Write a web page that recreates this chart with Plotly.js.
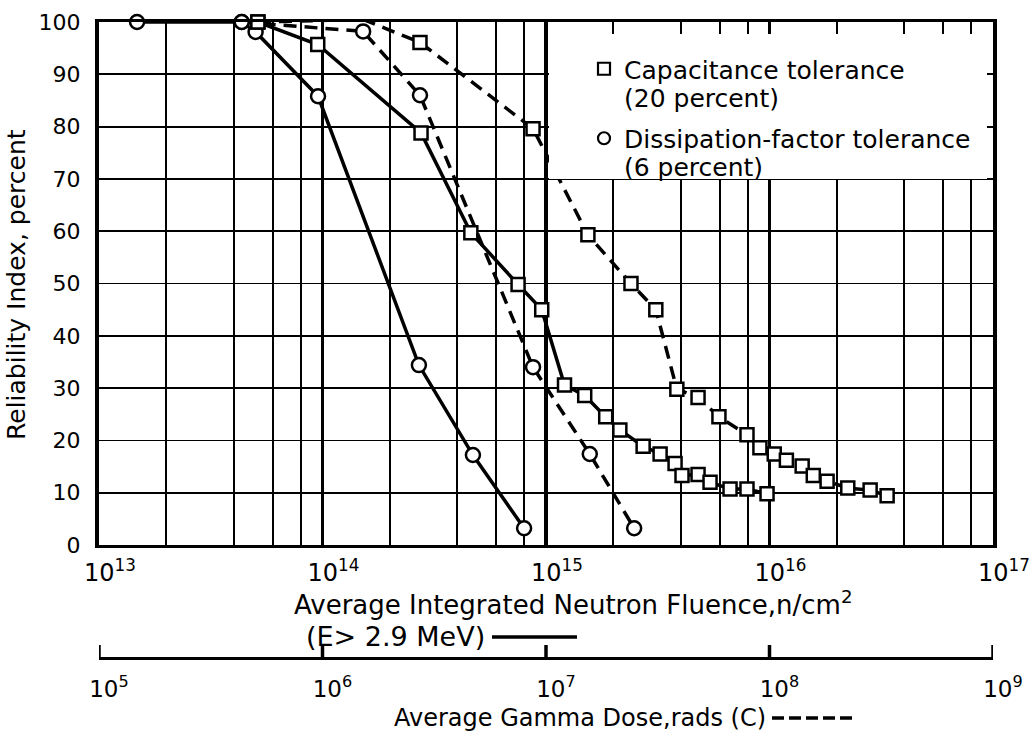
<!DOCTYPE html>
<html>
<head>
<meta charset="utf-8">
<script src="https://cdn.plot.ly/plotly-3.0.1.min.js"></script>
<style>html,body{margin:0;padding:0;background:#fff;}#chart{width:1030px;height:733px;}</style>
</head>
<body>
<div id="chart"></div>
<script>
// Neutron fluence (n/cm^2) — solid lines
const capNeutronX = [5.14e13, 9.52e13, 2.76e14, 4.61e14, 7.50e14, 9.57e14, 1.21e15, 1.49e15, 1.85e15, 2.14e15, 2.72e15, 3.24e15, 3.78e15, 4.06e15, 4.79e15, 5.42e15, 6.66e15, 7.93e15, 9.75e15];
const capNeutronY = [100, 95.7, 78.8, 59.7, 49.8, 45.0, 30.6, 28.6, 24.5, 22.0, 18.9, 17.4, 15.6, 13.3, 13.5, 12.0, 10.7, 10.7, 9.8];
const dfNeutronX = [1.48e13, 4.35e13, 5.02e13, 9.55e13, 2.70e14, 4.71e14, 7.98e14];
const dfNeutronY = [100, 100, 98.1, 85.8, 34.4, 17.2, 3.2];
// Gamma dose (rads C) — dashed lines
const capGammaX = [5.14e5, 1.52e6, 2.73e6, 8.75e6, 1.54e7, 2.40e7, 3.10e7, 3.85e7, 4.79e7, 5.94e7, 7.93e7, 9.06e7, 1.05e8, 1.19e8, 1.40e8, 1.57e8, 1.81e8, 2.24e8, 2.82e8, 3.36e8];
const capGammaY = [100, 100.5, 96.1, 79.6, 59.3, 50.0, 45.0, 29.8, 28.2, 24.5, 21.1, 18.6, 17.4, 16.2, 15.1, 13.3, 12.2, 10.9, 10.5, 9.4];
const dfGammaX = [4.35e5, 1.52e6, 2.73e6, 8.75e6, 1.57e7, 2.48e7];
const dfGammaY = [100, 98.2, 86.0, 34.0, 17.4, 3.2];

// Tick labels
const neutronTicks = [1e13, 1e14, 1e15, 1e16, 1e17];
const neutronTickText = ['10<sup>13</sup>', '10<sup>14</sup>', '10<sup>15</sup>', '10<sup>16</sup>', '10<sup>17</sup>'];
const gammaTicks = [1e5, 1e6, 1e7, 1e8, 1e9];
const gammaTickText = ['10<sup>5</sup>', '10<sup>6</sup>', '10<sup>7</sup>', '10<sup>8</sup>', '10<sup>9</sup>'];
const yTicks = [0, 10, 20, 30, 40, 50, 60, 70, 80, 90, 100];
const minorMultipliers = [2, 4, 6, 8];

const legendNames = ['Capacitance tolerance', 'Dissipation-factor tolerance'];
const legendSub = ['(20 percent)', '(6 percent)'];

const minorVals = [];
for (let e = 13; e < 17; e++) minorMultipliers.forEach(m => minorVals.push(m * Math.pow(10, e)));

const FONT = 'DejaVu Sans, sans-serif';
const circleMarker = {symbol: 'circle', size: 14, color: '#fff', line: {color: '#000', width: 2.5}};
const squareMarker = {symbol: 'square', size: 13, color: '#fff', line: {color: '#000', width: 2.5}};
const dashStyle = '13px,8px';

const traces = [
  {x: dfGammaX, y: dfGammaY, xaxis: 'x2', yaxis: 'y', mode: 'lines+markers', line: {color: '#000', width: 3.5, dash: dashStyle}, marker: circleMarker, showlegend: false, cliponaxis: false},
  {x: capGammaX, y: capGammaY, xaxis: 'x2', yaxis: 'y', mode: 'lines+markers', line: {color: '#000', width: 3.5, dash: dashStyle}, marker: squareMarker, showlegend: false, cliponaxis: false},
  {x: dfNeutronX, y: dfNeutronY, xaxis: 'x', yaxis: 'y', mode: 'lines+markers', line: {color: '#000', width: 3.5}, marker: circleMarker, showlegend: false, cliponaxis: false},
  {x: capNeutronX, y: capNeutronY, xaxis: 'x', yaxis: 'y', mode: 'lines+markers', line: {color: '#000', width: 3.5}, marker: squareMarker, showlegend: false, cliponaxis: false},
  {x: [null], y: [null], mode: 'markers', name: legendNames[0], legendgroup: 'a', marker: {symbol: 'square-open', size: 12, color: '#000', line: {width: 2.2}}, showlegend: true},
  {x: [null], y: [null], mode: 'markers', name: legendNames[1], legendgroup: 'b', marker: {symbol: 'circle-open', size: 12, color: '#000', line: {width: 2.2}}, showlegend: true}
];

const W = 894, H = 701, L = 99, T = 22;
const px = v => (v - L) / W;
const py = v => (T + H - v) / H;
const gammaLineY = 658;

// upward tick marks on the gamma-dose scale, placed through its own axis
const gammaTickShapes = gammaTicks.map(v => ({
  type: 'line', xref: 'x2', yref: 'paper', x0: v, x1: v,
  y0: py(gammaLineY + 1), y1: py(gammaLineY - 13),
  line: {color: '#000', width: 3.5}
}));

const layout = {
  width: 1030, height: 733,
  margin: {l: L, r: 1030 - L - W, t: T, b: 733 - T - H},
  paper_bgcolor: '#fff', plot_bgcolor: '#fff',
  font: {family: FONT, color: '#000'},
  showlegend: true,
  legend: {x: px(584), y: py(46), xanchor: 'left', yanchor: 'top', font: {size: 25, family: FONT}, bgcolor: 'rgba(0,0,0,0)', borderwidth: 0, traceorder: 'grouped', tracegroupgap: 34, itemclick: false},
  xaxis: {
    type: 'log', range: [13, 17], anchor: 'y',
    tickmode: 'array', tickvals: neutronTicks, ticktext: neutronTickText,
    showgrid: true, gridcolor: '#000', gridwidth: 3.5,
    minor: {tickmode: 'array', tickvals: minorVals, showgrid: true, gridcolor: '#000', gridwidth: 2, ticks: ''},
    showline: true, mirror: true, linecolor: '#000', linewidth: 3,
    ticks: '', ticklabelstandoff: 4, ticklabelshift: 11,
    tickfont: {size: 24, family: FONT}, zeroline: false
  },
  xaxis2: {
    type: 'log', range: [5, 9], overlaying: 'x', anchor: 'free', position: py(gammaLineY), side: 'bottom',
    tickmode: 'array', tickvals: gammaTicks, ticktext: gammaTickText,
    ticks: '', showline: true, linewidth: 3, linecolor: '#000', showgrid: false, zeroline: false,
    ticklabelstandoff: 9, ticklabelshift: 10, tickfont: {size: 23, family: FONT}
  },
  yaxis: {
    range: [0, 100], domain: [py(545), 1],
    tickmode: 'array', tickvals: yTicks,
    showgrid: true, gridcolor: '#000', gridwidth: 1.8,
    showline: true, mirror: true, linecolor: '#000', linewidth: 4,
    ticks: '', ticklabelstandoff: 10, tickfont: {size: 22, family: FONT}, zeroline: false
  },
  shapes: [
    {type: 'rect', xref: 'paper', yref: 'paper', x0: px(549), x1: px(987), y0: py(179), y1: py(34), fillcolor: '#fff', line: {width: 0}, layer: 'above'},
    {type: 'line', xref: 'paper', yref: 'paper', x0: px(492), x1: px(577), y0: py(637), y1: py(637), line: {color: '#000', width: 3.5}},
    {type: 'line', xref: 'paper', yref: 'paper', x0: px(772), x1: px(857), y0: py(718), y1: py(718), line: {color: '#000', width: 3.5, dash: '12px,5px'}}
  ].concat(gammaTickShapes),
  annotations: [
    {text: 'Reliability Index, percent', xref: 'paper', yref: 'paper', x: px(16), y: py(285), textangle: -90, showarrow: false, xanchor: 'center', yanchor: 'middle', font: {size: 25, family: FONT}},
    {text: 'Average Integrated Neutron Fluence,n/cm<sup>2</sup>', xref: 'paper', yref: 'paper', x: px(573), y: py(603), showarrow: false, xanchor: 'center', yanchor: 'middle', font: {size: 26, family: FONT}},
    {text: '(E> 2.9 MeV)', xref: 'paper', yref: 'paper', x: px(487), y: py(636), showarrow: false, xanchor: 'right', yanchor: 'middle', font: {size: 27, family: FONT}},
    {text: 'Average Gamma Dose,rads (C)', xref: 'paper', yref: 'paper', x: px(768), y: py(718), showarrow: false, xanchor: 'right', yanchor: 'middle', font: {size: 24, family: FONT}},
    {text: legendSub[0], xref: 'paper', yref: 'paper', x: px(622), y: py(99), showarrow: false, xanchor: 'left', yanchor: 'middle', font: {size: 25, family: FONT}},
    {text: legendSub[1], xref: 'paper', yref: 'paper', x: px(622), y: py(167), showarrow: false, xanchor: 'left', yanchor: 'middle', font: {size: 25, family: FONT}}
  ]
};

Plotly.newPlot('chart', traces, layout, {staticPlot: true, displayModeBar: false});
</script>
</body>
</html>
